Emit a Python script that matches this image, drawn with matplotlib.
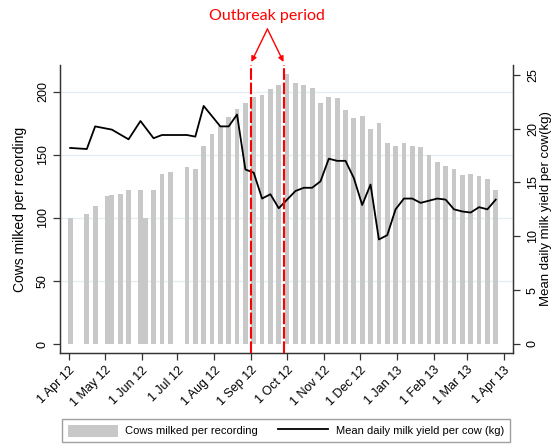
import numpy as np
import matplotlib
matplotlib.use('Agg')
import matplotlib.pyplot as plt
import matplotlib.dates as mdates

plt.rcParams['font.family'] = 'Liberation Sans'

# herd recordings: number of cows milked at each recording
cow_dates = ['2012-04-02', '2012-04-16', '2012-04-23', '2012-05-03', '2012-05-07',
             '2012-05-14', '2012-05-21', '2012-05-31', '2012-06-04', '2012-06-11',
             '2012-06-18', '2012-06-25', '2012-07-09', '2012-07-16', '2012-07-23',
             '2012-07-30', '2012-08-06', '2012-08-13', '2012-08-20', '2012-08-27',
             '2012-09-03', '2012-09-10', '2012-09-17', '2012-09-24', '2012-10-01',
             '2012-10-08', '2012-10-15', '2012-10-22', '2012-10-29', '2012-11-05',
             '2012-11-12', '2012-11-19', '2012-11-26', '2012-12-03', '2012-12-10',
             '2012-12-17', '2012-12-24', '2012-12-31', '2013-01-07', '2013-01-14',
             '2013-01-21', '2013-01-28', '2013-02-04', '2013-02-11', '2013-02-18',
             '2013-02-25', '2013-03-04', '2013-03-11', '2013-03-18', '2013-03-25']
cows = [100, 103, 109, 117, 118,
        119, 122, 122, 100, 122,
        135, 136, 140, 139, 157,
        166, 173, 180, 186, 191,
        196, 197, 202, 205, 214,
        207, 205, 203, 191, 196,
        195, 185, 179, 181, 170,
        175, 159, 157, 159, 157,
        156, 150, 144, 141, 139,
        134, 135, 133, 131, 122]

# mean daily milk yield per cow (kg)
yield_dates = ['2012-04-02', '2012-04-16', '2012-04-23', '2012-05-07', '2012-05-21',
               '2012-05-31', '2012-06-11', '2012-06-18', '2012-07-09', '2012-07-16',
               '2012-07-23', '2012-08-06', '2012-08-13', '2012-08-20', '2012-08-27',
               '2012-09-03', '2012-09-10', '2012-09-17', '2012-09-24', '2012-10-01',
               '2012-10-08', '2012-10-15', '2012-10-22', '2012-10-29', '2012-11-05',
               '2012-11-12', '2012-11-19', '2012-11-26', '2012-12-03', '2012-12-10',
               '2012-12-17', '2012-12-24', '2012-12-31', '2013-01-07', '2013-01-14',
               '2013-01-21', '2013-01-28', '2013-02-04', '2013-02-11', '2013-02-18',
               '2013-02-25', '2013-03-04', '2013-03-11', '2013-03-18', '2013-03-25']
milk_yield = [18.2, 18.1, 20.2, 19.9, 19.0,
              20.7, 19.1, 19.4, 19.4, 19.25,
              22.1, 20.2, 20.2, 21.3, 16.2,
              15.9, 13.5, 13.9, 12.6, 13.4,
              14.2, 14.5, 14.5, 15.1, 17.2,
              17.0, 17.0, 15.4, 12.9, 14.8,
              9.7, 10.1, 12.5, 13.5, 13.5,
              13.1, 13.3, 13.5, 13.4, 12.5,
              12.3, 12.2, 12.7, 12.5, 13.4]

outbreak = ['2012-09-01', '2012-09-28']

tick_dates = ['2012-04-01', '2012-05-01', '2012-06-01', '2012-07-01', '2012-08-01',
              '2012-09-01', '2012-10-01', '2012-11-01', '2012-12-01', '2013-01-01',
              '2013-02-01', '2013-03-01', '2013-04-01']
tick_labels = ['1 Apr 12', '1 May 12', '1 Jun 12', '1 Jul 12', '1 Aug 12', '1 Sep 12',
               '1 Oct 12', '1 Nov 12', '1 Dec 12', '1 Jan 13', '1 Feb 13', '1 Mar 13',
               '1 Apr 13']

x_cows = mdates.datestr2num(cow_dates)
x_yield = mdates.datestr2num(yield_dates)
x_out = mdates.datestr2num(outbreak)
x_ticks = mdates.datestr2num(tick_dates)

W, H = 553, 445
fig = plt.figure(figsize=(W / 100, H / 100), dpi=100)
ax = fig.add_axes([60 / W, 92 / H, 453 / W, 288 / H])
ax2 = ax.twinx()

axis_col = '#333333'
for a in (ax, ax2):
    a.spines['top'].set_visible(False)
    for s in ('left', 'right', 'bottom'):
        a.spines[s].set_color(axis_col)
        a.spines[s].set_linewidth(0.9)

# gridlines off the left axis
for g in [50, 100, 150, 200]:
    ax.axhline(g, color='#e3eef1', lw=0.9, zorder=0)

bars = ax.bar(x_cows, cows, width=4.0, color='#c8c8c8', zorder=2)
line, = ax2.plot(x_yield, milk_yield, color='black', lw=1.3, zorder=3)

for xv in x_out:
    ax2.axvline(xv, color='red', lw=1.5, linestyle=(0, (5.6, 1.3)), zorder=4)

ax.set_xlim(mdates.datestr2num('2012-03-24 12:00'), mdates.datestr2num('2013-04-08 12:00'))
ax.set_ylim(-7.1, 221)
ax2.set_ylim(-0.84, 25.9)

ax.set_xticks(x_ticks)
ax.set_xticklabels(tick_labels, rotation=45, ha='right', va='top', rotation_mode='anchor',
                   fontsize=9)
ax.set_yticks([0, 50, 100, 150, 200])
ax.set_yticklabels(['0', '50', '100', '150', '200'], rotation=90, va='center', fontsize=9)
ax2.set_yticks([0, 5, 10, 15, 20, 25])
ax2.set_yticklabels(['0', '5', '10', '15', '20', '25'], rotation=90, va='center', fontsize=9)
for a in (ax, ax2):
    a.tick_params(length=5, width=0.9, color=axis_col, pad=3)
ax2.tick_params(axis='y', pad=5)

ax.set_ylabel('Cows milked per recording', fontsize=10, labelpad=7)
ax2.set_ylabel('Mean daily milk yield per cow(kg)', fontsize=9.5, rotation=90, labelpad=1)

# outbreak annotation with arrows onto the dashed lines
mid = x_out.mean()
ax2.annotate('Outbreak period', xy=(mid, 1 - 16 / H), xycoords=('data', 'figure fraction'),
             ha='center', va='center', color='red', fontsize=11.5, family='Lato',
             annotation_clip=False)
for xv in x_out:
    ax2.annotate('', xy=(xv, 1 - 62 / H), xytext=(mid, 1 - 29 / H),
                 xycoords=('data', 'figure fraction'), textcoords=('data', 'figure fraction'),
                 arrowprops=dict(arrowstyle='-|>', color='red', lw=1.0, shrinkA=0, shrinkB=0,
                                 mutation_scale=8),
                 annotation_clip=False)

fig.legend(handles=[bars, line],
           labels=['Cows milked per recording', 'Mean daily milk yield per cow (kg)'],
           loc='upper left', bbox_to_anchor=(62 / W, 26 / H),
           ncol=2, frameon=True, fancybox=False, edgecolor='#a0a0a0', framealpha=1,
           fontsize=8, handlelength=4.5, handleheight=1.3, handletextpad=0.7,
           columnspacing=1.8, borderpad=0.5, borderaxespad=0)

fig.savefig('out.png', dpi=100)
